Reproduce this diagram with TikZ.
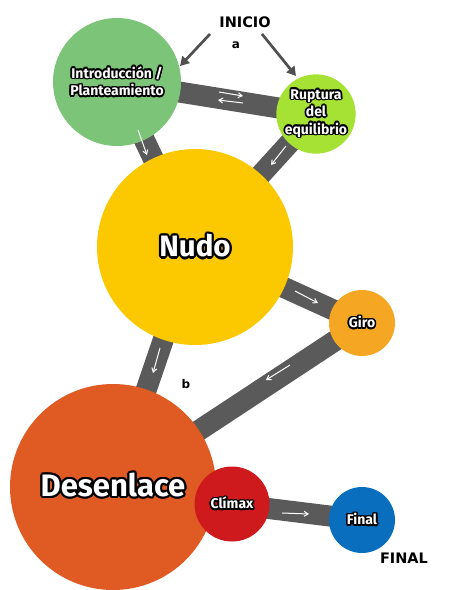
\documentclass[tikz,border=0pt]{standalone}
\usepackage{fontspec}
\setmainfont{Fira Sans}
\newfontfamily\labfont{DejaVu Sans}
\usepackage[copies]{contour}
\usetikzlibrary{arrows.meta}
\pgfdeclarelayer{bg}
\pgfsetlayers{bg,main}
\definecolor{cintro}{RGB}{124,196,120}
\definecolor{crupt}{RGB}{166,226,52}
\definecolor{cnudo}{RGB}{252,200,0}
\definecolor{cgiro}{RGB}{245,166,35}
\definecolor{cdes}{RGB}{224,90,36}
\definecolor{cclim}{RGB}{206,26,28}
\definecolor{cfinal}{RGB}{10,110,190}
\definecolor{cband}{RGB}{90,90,90}
\definecolor{carr}{RGB}{80,80,80}
\newcommand{\olt}[1]{\contour{black}{#1}}
\contournumber{12}
\tikzset{
  ball/.style={circle, inner sep=0pt, text=white, align=center, font=\bfseries\fontsize{14}{17.5}\selectfont},
  band/.style={line width=21pt, cband},
  wa/.style={white, line width=1pt, -{Straight Barb[length=4pt,width=5pt]}},
  ka/.style={carr, line width=2.7pt, -{Triangle[length=9pt,width=10pt]}},
  lab/.style={font=\labfont\bfseries\fontsize{14.5}{14.5}\selectfont, text=black},
  sm/.style={font=\labfont\bfseries\fontsize{12}{12}\selectfont, text=black}
}
\begin{document}
\begin{tikzpicture}[x=1pt,y=-1pt]
\useasboundingbox (0,0) rectangle (450,590);
\contourlength{1.6pt}
\node[ball, fill=cintro, minimum size=128pt] (intro) at (117,82) {\olt{Introducción /}\\\olt{Planteamiento}};
\node[ball, fill=crupt, minimum size=77pt] (rupt) at (316,114) {\olt{Ruptura}\\\olt{del}\\\olt{equilibrio}};
\node[ball, fill=cnudo, minimum size=196pt, font=\bfseries\fontsize{29.5}{30}\selectfont] (nudo) at (195,247) {\contourlength{2.2pt}\olt{Nudo}};
\node[ball, fill=cgiro, minimum size=66pt] (giro) at (362,323) {\olt{Giro}};
\node[ball, fill=cdes, minimum size=206pt, font=\bfseries\fontsize{31}{32}\selectfont] (des) at (113,487) {\raisebox{4pt}{\contourlength{2.2pt}\olt{Desenlace}}};
\node[ball, fill=cclim, minimum size=75pt] (clim) at (232,504) {\olt{Clímax}};
\node[ball, fill=cfinal, minimum size=66pt] (final) at (362,520) {\olt{Final}};
\begin{pgfonlayer}{bg}
\draw[band] (intro.center) -- (rupt.center);
\draw[band] (intro.center) -- (nudo.center);
\draw[band] (rupt.center) -- (nudo.center);
\draw[band] (nudo.center) -- (giro.center);
\draw[band] (giro.center) -- (des.center);
\draw[band] (nudo.center) -- (des.center);
\draw[band] (clim.center) -- (final.center);
\end{pgfonlayer}
% small white arrows
\coordinate (a1s) at (219,92); \coordinate (a1e) at (243,96);
\coordinate (a2s) at (243,103); \coordinate (a2e) at (218,100);
\coordinate (a3s) at (138,130); \coordinate (a3e) at (147,155);
\coordinate (a4s) at (286,146); \coordinate (a4e) at (271,165);
\coordinate (a5s) at (295,291); \coordinate (a5e) at (318,303);
\coordinate (a6s) at (290,365); \coordinate (a6e) at (266,380);
\coordinate (a7s) at (160,348); \coordinate (a7e) at (153,373);
\coordinate (a8s) at (282,513); \coordinate (a8e) at (309,514);
\draw[wa] (a1s) -- (a1e);
\draw[wa] (a2s) -- (a2e);
\draw[wa] (a3s) -- (a3e);
\draw[wa] (a4s) -- (a4e);
\draw[wa] (a5s) -- (a5e);
\draw[wa] (a6s) -- (a6e);
\draw[wa] (a7s) -- (a7e);
\draw[wa] (a8s) -- (a8e);
% labels
\node[lab] (inicio) at (245,22) {INICIO};
\node[sm] (la) at (236,45) {a};
\node[sm] (lb) at (186,384) {b};
\node[lab] (fin) at (404,558) {FINAL};
\coordinate (k1s) at (210,34); \coordinate (k1e) at (180,66);
\coordinate (k2s) at (262,34); \coordinate (k2e) at (296,76);
\draw[ka] (k1s) -- (k1e);
\draw[ka] (k2s) -- (k2e);
\end{tikzpicture}
\end{document}
